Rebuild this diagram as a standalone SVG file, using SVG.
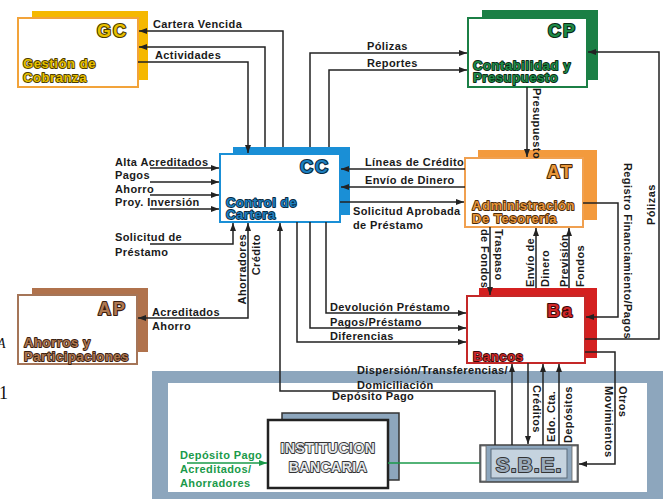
<svg xmlns="http://www.w3.org/2000/svg" width="668" height="500" viewBox="0 0 668 500">
  <style>
    .lbl { font-family: "Liberation Sans", Arial, sans-serif; font-weight: bold; font-size: 11px; letter-spacing: 0.4px; fill: #1a1a1a; }
    .grn { fill: #1a9a4a; }
    .code { font-family: "Liberation Sans", Arial, sans-serif; font-weight: 900; font-size: 18px; letter-spacing: 2px; stroke-width: 2.2px; stroke-linejoin: round; paint-order: stroke; }
    .ttl { font-family: "Liberation Sans", Arial, sans-serif; font-weight: 900; font-size: 13px; letter-spacing: 0.6px; stroke-width: 1.8px; stroke-linejoin: round; paint-order: stroke; }
    .box-ttl { font-family: "Liberation Sans", Arial, sans-serif; font-weight: bold; stroke-linejoin: round; paint-order: stroke; }
    .front { fill: #ffffff; stroke-width: 2px; }
    .wire { fill: none; stroke: #222222; stroke-width: 1.5px; }
    .gwire { fill: none; stroke: #1a9a4a; stroke-width: 1.5px; }
    .stray { font-family: "Liberation Serif", "Times New Roman", serif; fill: #111111; }
  </style>
  <defs>
    <marker id="arr" viewBox="0 0 8 6" refX="8" refY="3" markerWidth="8" markerHeight="6" markerUnits="userSpaceOnUse" orient="auto-start-reverse">
      <path d="M0,0 L8,3 L0,6 z" fill="#222222"/>
    </marker>
    <marker id="garr" viewBox="0 0 8 6" refX="8" refY="3" markerWidth="8" markerHeight="6" markerUnits="userSpaceOnUse" orient="auto">
      <path d="M0,0 L8,3 L0,6 z" fill="#1a9a4a"/>
    </marker>
  </defs>

  <rect width="668" height="500" fill="#ffffff"/>

  <!-- stray characters at the left margin -->
  <text class="stray" x="-3" y="348" font-size="14" font-style="italic">A</text>
  <text class="stray" x="-1" y="399" font-size="18">1</text>

  <!-- bank system area -->
  <g id="sistema-bancario">
    <rect x="152" y="371" width="511" height="128" fill="#8da6bd"/>
    <rect x="168" y="383" width="479" height="109" fill="#ffffff"/>
  </g>

  <!-- nodes -->
  <g id="gc">
    <rect x="32" y="11" width="116" height="69" fill="#f5b800"/>
    <rect class="front" x="18" y="18" width="120" height="69" stroke="#f2a33a"/>
    <text class="code" x="97" y="37" fill="#e8c000" stroke="#4a3c00">GC</text>
    <text class="ttl" x="23" y="68" fill="#e8c000" stroke="#4a3c00">Gestión de</text>
    <text class="ttl" x="23" y="82" fill="#e8c000" stroke="#4a3c00">Cobranza</text>
  </g>

  <g id="cp">
    <rect x="482" y="10" width="116" height="70" fill="#1b7f45"/>
    <rect class="front" x="468" y="18" width="119" height="69" stroke="#1b7f45"/>
    <text class="code" x="548" y="37" fill="#1e8a48" stroke="#0a2a14">CP</text>
    <text class="ttl" x="473" y="70" fill="#1e8a48" stroke="#0a2a14">Contabilidad y</text>
    <text class="ttl" x="473" y="82" fill="#1e8a48" stroke="#0a2a14">Presupuesto</text>
  </g>

  <g id="cc">
    <rect x="233" y="147" width="117" height="68" fill="#1a8fd6"/>
    <rect class="front" x="220" y="154" width="120" height="68" stroke="#1a8fd6"/>
    <text class="code" x="300" y="173" fill="#1c7fc0" stroke="#0a2a40">CC</text>
    <text class="ttl" x="226" y="207" fill="#1c7fc0" stroke="#0a2a40">Control de</text>
    <text class="ttl" x="226" y="219" fill="#1c7fc0" stroke="#0a2a40">Cartera</text>
  </g>

  <g id="at">
    <rect x="478" y="150" width="119" height="70" fill="#f39a3d"/>
    <rect class="front" x="465" y="158" width="118" height="69" stroke="#f0a050"/>
    <text class="code" x="547" y="178" fill="#e8963a" stroke="#4a2a08">AT</text>
    <text class="ttl" x="472" y="210" fill="#e8963a" stroke="#4a2a08">Administración</text>
    <text class="ttl" x="472" y="223" fill="#e8963a" stroke="#4a2a08">De Tesorería</text>
  </g>

  <g id="ap">
    <rect x="32" y="288" width="116" height="64" fill="#b0724c"/>
    <rect class="front" x="18" y="295" width="119" height="69" stroke="#a57558"/>
    <text class="code" x="98" y="315" fill="#b07850" stroke="#3a2010">AP</text>
    <text class="ttl" x="24" y="347" fill="#b07850" stroke="#3a2010">Ahorros y</text>
    <text class="ttl" x="24" y="361" fill="#b07850" stroke="#3a2010">Participaciones</text>
  </g>

  <g id="ba">
    <rect x="479" y="288" width="118" height="70" fill="#d42020"/>
    <rect class="front" x="467" y="296" width="118" height="67" stroke="#c42828"/>
    <text class="code" x="547" y="317" fill="#d02828" stroke="#3a0808">Ba</text>
    <text class="ttl" x="473" y="361" fill="#d02828" stroke="#3a0808">Bancos</text>
  </g>

  <g id="institucion">
    <rect x="282" y="413" width="117" height="67" fill="#8da6bd" stroke="#333333" stroke-width="1.5"/>
    <rect x="268" y="420" width="120" height="68" fill="#ffffff" stroke="#222222" stroke-width="2.5"/>
    <text class="box-ttl" x="328" y="453" text-anchor="middle" font-size="14" letter-spacing="0.5" fill="#e4e8ec" stroke="#333333" stroke-width="1.8">INSTITUCION</text>
    <text class="box-ttl" x="328" y="472" text-anchor="middle" font-size="14" letter-spacing="0.5" fill="#e4e8ec" stroke="#333333" stroke-width="1.8">BANCARIA</text>
  </g>

  <g id="sbe">
    <rect x="480" y="445" width="98" height="37" fill="#8da6bd" stroke="#444444" stroke-width="1.5"/>
    <rect x="481" y="446" width="5" height="35" fill="#ffffff" stroke="#666666" stroke-width="0.8"/>
    <rect x="572" y="446" width="5" height="35" fill="#ffffff" stroke="#666666" stroke-width="0.8"/>
    <rect x="491" y="449" width="76" height="29" fill="#c5d3df" stroke="#5a6a7a" stroke-width="1"/>
    <text class="box-ttl" x="529" y="472" text-anchor="middle" font-size="21" letter-spacing="1" fill="#9aaabb" stroke="#333333" stroke-width="2">S.B.E.</text>
  </g>

  <!-- connectors -->
  <g id="connectors">
    <!-- CC <-> GC -->
    <path class="wire" d="M283,147 V31 H139" marker-end="url(#arr)"/>
    <path class="wire" d="M265,147 V47 H139" marker-end="url(#arr)"/>
    <path class="wire" d="M138,62 H248 V153" marker-end="url(#arr)"/>
    <!-- CC -> CP -->
    <path class="wire" d="M310,147 V53 H467" marker-end="url(#arr)"/>
    <path class="wire" d="M329,147 V70 H467" marker-end="url(#arr)"/>
    <!-- CP -> AT -->
    <path class="wire" d="M527,87 V157" marker-end="url(#arr)"/>
    <!-- AT <-> CC -->
    <path class="wire" d="M465,169 H341" marker-end="url(#arr)"/>
    <path class="wire" d="M465,187 H341" marker-end="url(#arr)"/>
    <path class="wire" d="M340,202 H464" marker-end="url(#arr)"/>
    <!-- external inputs to CC -->
    <path class="wire" d="M150,168 H219" marker-end="url(#arr)"/>
    <path class="wire" d="M150,182 H219" marker-end="url(#arr)"/>
    <path class="wire" d="M150,195 H219" marker-end="url(#arr)"/>
    <path class="wire" d="M150,209 H219" marker-end="url(#arr)"/>
    <path class="wire" d="M150,244 H233 V223" marker-end="url(#arr)"/>
    <!-- CC <-> AP -->
    <path class="wire" d="M138,318 H248 V223" marker-start="url(#arr)" marker-end="url(#arr)"/>
    <!-- CC -> Ba -->
    <path class="wire" d="M326,222 V313 H466" marker-end="url(#arr)"/>
    <path class="wire" d="M310,222 V328 H466" marker-end="url(#arr)"/>
    <path class="wire" d="M297,222 V342 H466" marker-end="url(#arr)"/>
    <!-- SBE -> CC -->
    <path class="wire" d="M495,445 V391 H280 V223" marker-end="url(#arr)"/>
    <!-- AT <-> Ba -->
    <path class="wire" d="M490,227 V295" marker-end="url(#arr)"/>
    <path class="wire" d="M536,288 V228" marker-end="url(#arr)"/>
    <path class="wire" d="M569,288 V228" marker-end="url(#arr)"/>
    <path class="wire" d="M583,203 H618 V317 H586" marker-end="url(#arr)"/>
    <!-- Ba -> CP -->
    <path class="wire" d="M585,339 H659 V52 H588" marker-end="url(#arr)"/>
    <!-- Ba <-> SBE -->
    <path class="wire" d="M585,352 H615 V464 H579" marker-end="url(#arr)"/>
    <path class="wire" d="M512,445 V364" marker-end="url(#arr)"/>
    <path class="wire" d="M528,363 V444" marker-end="url(#arr)"/>
    <path class="wire" d="M543,445 V364" marker-end="url(#arr)"/>
    <path class="wire" d="M559,445 V364" marker-end="url(#arr)"/>
    <!-- deposits into the bank -->
    <path class="gwire" d="M187,463 H267" marker-end="url(#garr)"/>
    <path class="gwire" d="M388,463 H480"/>
  </g>

  <!-- connector labels -->
  <g id="labels">
    <text class="lbl" x="153" y="28">Cartera Vencida</text>
    <text class="lbl" x="155" y="59">Actividades</text>
    <text class="lbl" x="367" y="50">Pólizas</text>
    <text class="lbl" x="367" y="67">Reportes</text>

    <text class="lbl" x="115" y="166">Alta Acreditados</text>
    <text class="lbl" x="115" y="179">Pagos</text>
    <text class="lbl" x="115" y="193">Ahorro</text>
    <text class="lbl" x="115" y="206">Proy. Inversión</text>
    <text class="lbl" x="115" y="241">Solicitud de</text>
    <text class="lbl" x="115" y="256">Préstamo</text>

    <text class="lbl" x="365" y="166">Líneas de Crédito</text>
    <text class="lbl" x="365" y="184">Envío de Dinero</text>
    <text class="lbl" x="353" y="215">Solicitud Aprobada</text>
    <text class="lbl" x="353" y="229">de Préstamo</text>

    <text class="lbl" x="152" y="316">Acreditados</text>
    <text class="lbl" x="152" y="330">Ahorro</text>
    <text class="lbl" transform="translate(245.5,234) rotate(-90)" text-anchor="end">Ahorradores</text>
    <text class="lbl" transform="translate(260,234) rotate(-90)" text-anchor="end">Crédito</text>

    <text class="lbl" x="330" y="311">Devolución Préstamo</text>
    <text class="lbl" x="330" y="326">Pagos/Préstamo</text>
    <text class="lbl" x="330" y="340">Diferencias</text>

    <text class="lbl" transform="translate(532.5,88) rotate(90)">Presupuesto</text>
    <text class="lbl" transform="translate(495,229) rotate(90)">Traspaso</text>
    <text class="lbl" transform="translate(480.5,229) rotate(90)">de Fondos</text>
    <text class="lbl" transform="translate(533.5,287) rotate(-90)">Envío de</text>
    <text class="lbl" transform="translate(548.5,287) rotate(-90)">Dinero</text>
    <text class="lbl" transform="translate(568,287) rotate(-90)">Previsión</text>
    <text class="lbl" transform="translate(583.5,287) rotate(-90)">Fondos</text>
    <text class="lbl" transform="translate(623.5,163) rotate(90)">Registro Financiamiento/Pagos</text>
    <text class="lbl" transform="translate(655,225) rotate(-90)">Pólizas</text>

    <text class="lbl" x="357" y="374">Dispersión/Transferencias/</text>
    <text class="lbl" x="357" y="389">Domiciliación</text>
    <text class="lbl" x="332" y="400">Depósito Pago</text>
    <text class="lbl" transform="translate(532.5,385) rotate(90)">Créditos</text>
    <text class="lbl" transform="translate(554.5,442) rotate(-90)">Edo. Cta.</text>
    <text class="lbl" transform="translate(571.5,443) rotate(-90)">Depósitos</text>
    <text class="lbl" transform="translate(619,386) rotate(90)">Otros</text>
    <text class="lbl" transform="translate(605,386) rotate(90)">Movimientos</text>

    <text class="lbl grn" x="180" y="459">Depósito Pago</text>
    <text class="lbl grn" x="180" y="473">Acreditados/</text>
    <text class="lbl grn" x="180" y="487">Ahorradores</text>
  </g>
</svg>
